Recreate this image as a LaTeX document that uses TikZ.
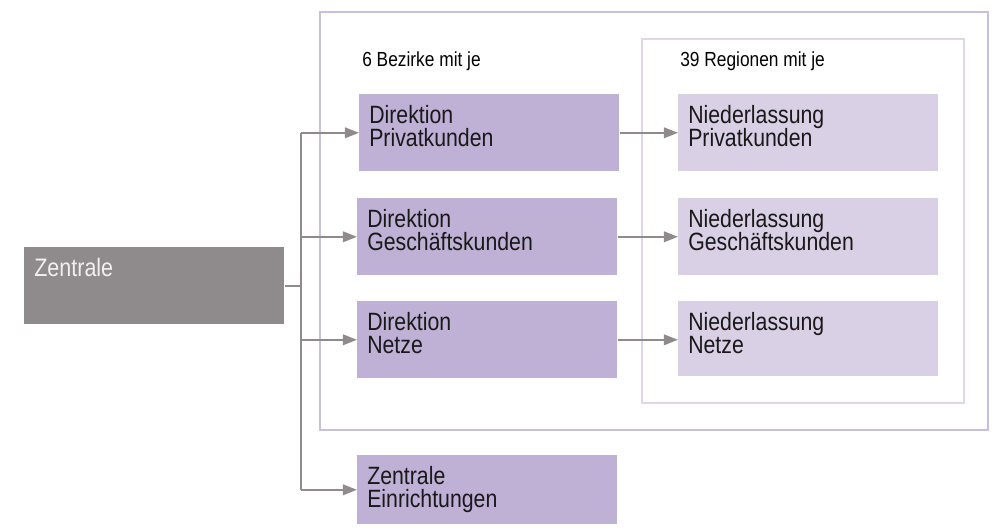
\documentclass[tikz,border=0pt]{standalone}
\usepackage{fontspec}
\setmainfont[FakeStretch=0.85]{Liberation Sans}
\usepackage{tikz}
\usetikzlibrary{arrows.meta}
\definecolor{lila}{RGB}{191,176,214}
\definecolor{lilahell}{RGB}{217,208,230}
\definecolor{rahmen}{RGB}{200,190,222}
\definecolor{rahmenhell}{RGB}{222,214,235}
\definecolor{grau}{RGB}{143,138,140}

\begin{document}
\begin{tikzpicture}[x=0.025cm, y=-0.025cm, >={Triangle[length=10pt,width=7.5pt]},
  font=\fontsize{17.8}{16.6}\selectfont,
  box/.style={anchor=north west, align=left, text width=6cm,
              inner xsep=0.25cm, inner ysep=0pt,
              text height=0.725cm, text depth=1.2cm, text=black!90},
  dir/.style={box, fill=lila},
  nl/.style={box, fill=lilahell},
  kopf/.style={anchor=base west, inner sep=0pt, font=\fontsize{14.5}{14.5}\selectfont},
  pfeil/.style={->, draw=grau, line width=1.3pt}]
  \useasboundingbox (0,0) rectangle (997,527);
  \draw[rahmen, line width=1.5pt] (320,12) rectangle (988,430);
  \draw[rahmenhell, line width=1.3pt] (642,39) rectangle (964,403);
  \node[kopf] (bezirke) at (362,66) {6 Bezirke mit je};
  \node[kopf] (regionen) at (680,66) {39 Regionen mit je};

  \node[box, fill=grau, text=white!94!black, font=\fontsize{18}{18}\selectfont]
    (zentrale) at (24,247) {Zentrale};

  \node[dir] (dpriv) at (359,94) {Direktion\\Privatkunden};
  \node[dir] (dgesch) at (357,198) {Direktion\\Geschäftskunden};
  \node[dir] (dnetze) at (357,301) {Direktion\\Netze};
  \node[dir, text depth=1cm] (zeinr) at (357,455) {Zentrale\\Einrichtungen};

  \node[nl] (npriv) at (678,94) {Niederlassung\\Privatkunden};
  \node[nl] (ngesch) at (678,198) {Niederlassung\\Geschäftskunden};
  \node[nl, text depth=1.15cm] (nnetze) at (678,301) {Niederlassung\\Netze};

  \coordinate (ast) at (301,0);
  \draw[grau, line width=1.3pt] (zentrale.east) -- (zentrale.east -| ast);
  \draw[grau, line width=1.3pt] (ast |- dpriv.west) -- (ast |- zeinr.west);
  \foreach \z in {dpriv,dgesch,dnetze,zeinr}
    \draw[pfeil] (ast |- \z.west) -- (\z.west);
  \foreach \a/\b in {dpriv/npriv, dgesch/ngesch, dnetze/nnetze}
    \draw[pfeil] (\a.east) -- (\a.east -| \b.west);
\end{tikzpicture}
\end{document}
